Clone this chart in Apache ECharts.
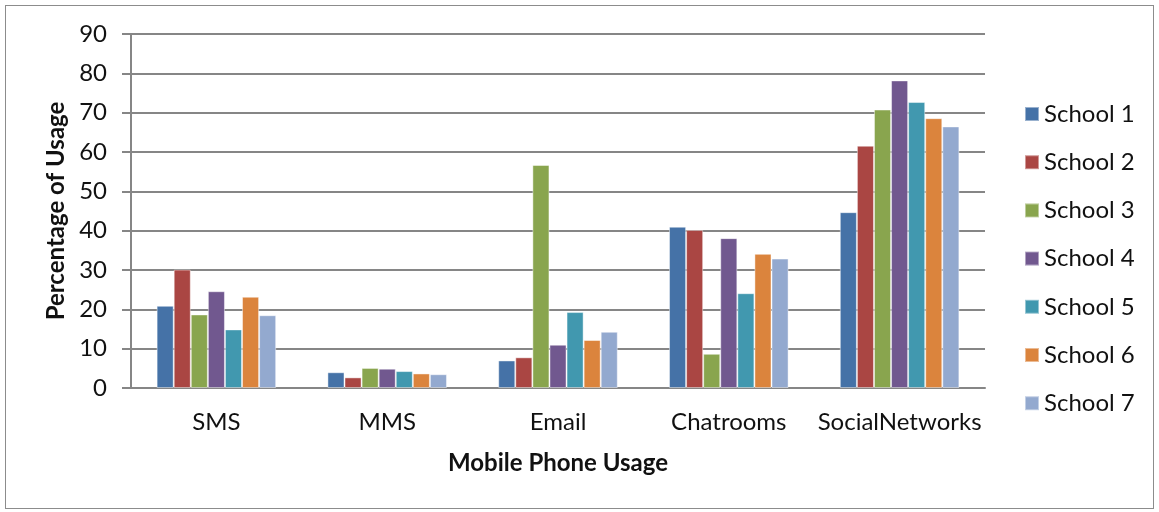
<!DOCTYPE html>
<html>
<head>
<meta charset="utf-8">
<script src="https://cdn.jsdelivr.net/npm/echarts@6/dist/echarts.min.js"></script>
<style>
  html, body { margin: 0; padding: 0; background: #fff; }
  #frame { position: absolute; left: 5px; top: 5px; width: 1149px; height: 504px; border: 1.5px solid #8c8c8c; box-sizing: border-box; }
  #chart { width: 1159px; height: 512px; }
</style>
</head>
<body>
<div id="frame"></div>
<div id="chart"></div>
<script>
// Usage categories along the x axis
const categories = ['SMS', 'MMS', 'Email', 'Chatrooms', 'SocialNetworks'];

// Percentage of usage per school, one value per category
const school1 = [20.9, 4.0, 7.0, 41.0, 44.7];
const school2 = [30.1, 2.7, 7.8, 40.2, 61.6];
const school3 = [18.7, 5.1, 56.7, 8.7, 70.8];
const school4 = [24.6, 4.9, 11.0, 38.1, 78.2];
const school5 = [14.9, 4.3, 19.3, 24.1, 72.7];
const school6 = [23.2, 3.7, 12.2, 34.1, 68.6];
const school7 = [18.5, 3.5, 14.3, 32.9, 66.5];

const seriesNames = ['School 1', 'School 2', 'School 3', 'School 4', 'School 5', 'School 6', 'School 7'];
const seriesValues = [school1, school2, school3, school4, school5, school6, school7];
const colors = ['#4572A7', '#AA4643', '#89A54E', '#71588F', '#4198AF', '#DB843D', '#93A9CF'];

const FONT = 'Lato, "Open Sans", sans-serif';
const FS = 24;

const chart = echarts.init(document.getElementById('chart'), null, { renderer: 'canvas' });

chart.setOption({
  animation: false,
  color: colors,
  textStyle: { fontFamily: FONT },
  grid: { left: 131, right: 174, top: 34, bottom: 124, containLabel: false },
  legend: {
    orient: 'vertical',
    left: 1019,
    top: 97,
    itemWidth: 14,
    itemHeight: 14,
    itemGap: 24.2,
    icon: 'rect',
    textStyle: { fontFamily: FONT, fontSize: FS, lineHeight: 24, color: '#111' },
    data: seriesNames
  },
  xAxis: {
    type: 'category',
    data: categories,
    name: 'Mobile Phone Usage',
    nameLocation: 'middle',
    nameGap: 63,
    nameTextStyle: { fontFamily: FONT, fontSize: FS, fontWeight: 'bold', color: '#111' },
    axisLine: { lineStyle: { color: '#868686', width: 2 } },
    axisTick: { show: false },
    axisLabel: { interval: 0, fontFamily: FONT, fontSize: FS, color: '#111', margin: 22 }
  },
  yAxis: {
    type: 'value',
    min: 0,
    max: 90,
    interval: 10,
    name: 'Percentage of Usage',
    nameLocation: 'middle',
    nameGap: 62,
    nameRotate: 90,
    nameTextStyle: { fontFamily: FONT, fontSize: FS, fontWeight: 'bold', color: '#111' },
    axisLine: { show: true, lineStyle: { color: '#868686', width: 2 } },
    axisTick: { show: true, length: 9, lineStyle: { color: '#868686', width: 2 } },
    axisLabel: { fontFamily: FONT, fontSize: FS, color: '#111', margin: 24 },
    splitLine: { lineStyle: { color: '#868686', width: 2 } }
  },
  series: seriesNames.map((name, i) => ({
    name: name,
    type: 'bar',
    data: seriesValues[i],
    barGap: '0%',
    barCategoryGap: '30%',
    itemStyle: { borderColor: 'rgba(255,255,255,0.45)', borderWidth: 1 }
  }))
});
</script>
</body>
</html>
